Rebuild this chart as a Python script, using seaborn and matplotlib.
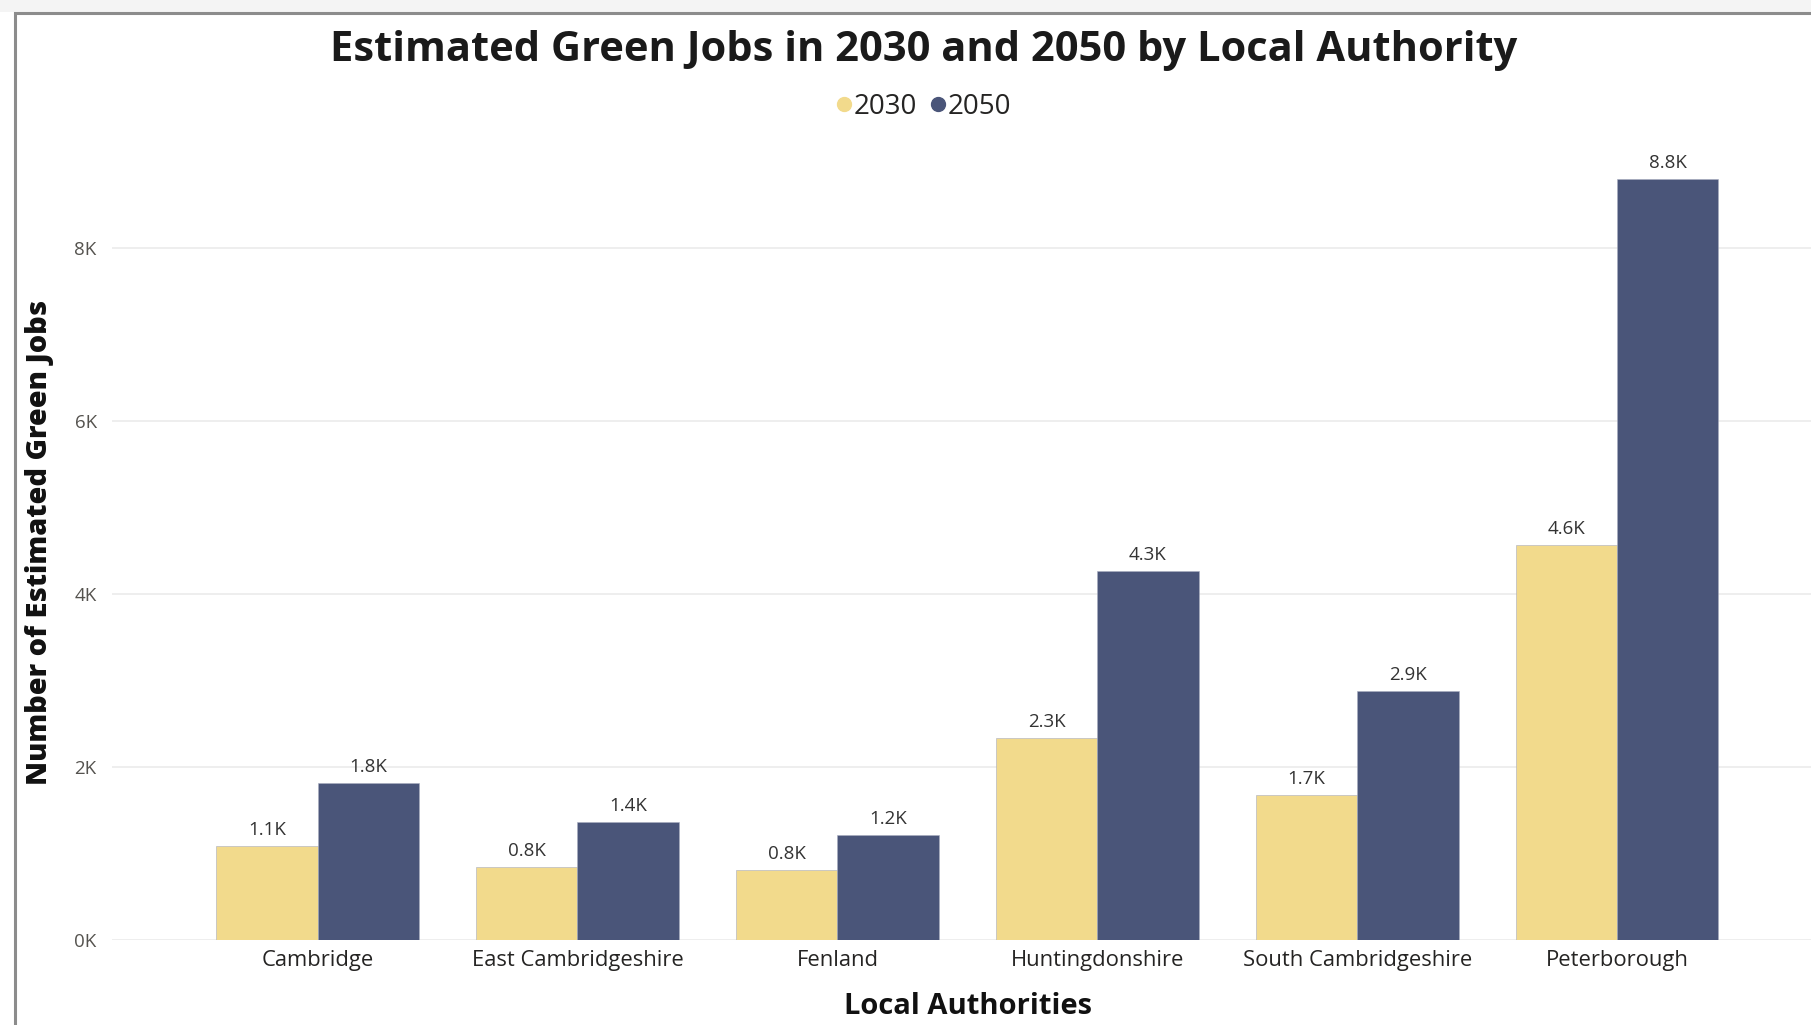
import matplotlib
matplotlib.use("Agg")
import matplotlib.pyplot as plt
from matplotlib.lines import Line2D
from matplotlib.patches import Rectangle
import seaborn as sns
import pandas as pd

# Estimated green jobs per local authority
authorities = ["Cambridge", "East Cambridgeshire", "Fenland", "Huntingdonshire",
               "South Cambridgeshire", "Peterborough"]
jobs_2030 = [1090, 840, 810, 2340, 1680, 4560]
jobs_2050 = [1820, 1360, 1210, 4260, 2880, 8790]
years = ["2030", "2050"]
y_ticks = [0, 2000, 4000, 6000, 8000]
y_tick_labels = ["0K", "2K", "4K", "6K", "8K"]

colors = {"2030": "#F2DA8C", "2050": "#4A5579"}

df = pd.DataFrame({
    "Local Authority": authorities * 2,
    "Year": ["2030"] * len(authorities) + ["2050"] * len(authorities),
    "Jobs": jobs_2030 + jobs_2050,
})

sns.set_theme(style="white")
plt.rcParams["font.family"] = ["Open Sans", "DejaVu Sans"]

W, H = 1811, 1025
fig = plt.figure(figsize=(W / 100, H / 100), dpi=100)
fig.patch.set_facecolor("white")

# page strip and visual frame, kept behind the axes
fig.patches.append(Rectangle((0, 1 - 12 / H), 1, 12 / H, transform=fig.transFigure,
                             facecolor="#F4F4F4", edgecolor="none", zorder=-3))
fig.patches.append(Rectangle((15 / W, -0.05), 1.1, 1 - 13 / H + 0.05, transform=fig.transFigure,
                             facecolor="white", edgecolor="#8C8C8C", linewidth=2.2, zorder=-2))

left, right = 112, 1811
top, bottom = 150, 940
ax = fig.add_axes([left / W, 1 - bottom / H, (right - left) / W, (bottom - top) / H])
ax.set_facecolor("none")

sns.barplot(data=df, x="Local Authority", y="Jobs", hue="Year", hue_order=years,
            order=authorities, palette=colors, width=0.78, saturation=1,
            edgecolor="#a8adbf", linewidth=0.4, legend=False, ax=ax, zorder=3)

for container in ax.containers:
    labels = [f"{b.get_height() / 1000:.1f}K" for b in container]
    ax.bar_label(container, labels=labels, padding=5, fontsize=13.5, color="#333333")

ax.set_ylim(0, 9130)
ax.set_xlim(-0.791, 5.746)
ax.set_yticks(y_ticks)
ax.set_yticklabels(y_tick_labels)
ax.grid(axis="y", color="#EBEBEB", linewidth=1.2, zorder=0)
ax.grid(axis="x", visible=False)
ax.set_axisbelow(True)
for s in ax.spines.values():
    s.set_visible(False)
ax.tick_params(axis="y", length=0, pad=11, labelsize=13.5, labelcolor="#55534F")
ax.tick_params(axis="x", length=0, pad=7, labelsize=15.8, labelcolor="#252423")

ax.set_xlabel("Local Authorities", fontsize=21, fontweight="bold", color="#111111", labelpad=15)
ax.xaxis.label.set_x((968 - left) / (right - left))
ax.set_ylabel("")
fig.text(40 / W, 1 - 542 / H, "Number of Estimated Green Jobs", rotation=90,
         ha="center", va="center", fontsize=20.8, fontweight="heavy", color="#111111")

fig.text(924 / W, 1 - 50.5 / H, "Estimated Green Jobs in 2030 and 2050 by Local Authority",
         ha="center", va="center", fontsize=30, fontweight="bold", color="#1a1a1a")

handles = [Line2D([0], [0], marker="o", linestyle="none", markersize=10,
                  markerfacecolor=colors[y], markeredgecolor=colors[y]) for y in years]
fig.legend(handles, years, loc="center", bbox_to_anchor=(921 / W, 1 - 107 / H), ncol=2,
           frameon=False, fontsize=20, handletextpad=-0.15, columnspacing=0.25,
           handlelength=1.0, labelcolor="#252423")

fig.savefig("out.png", dpi=100)
